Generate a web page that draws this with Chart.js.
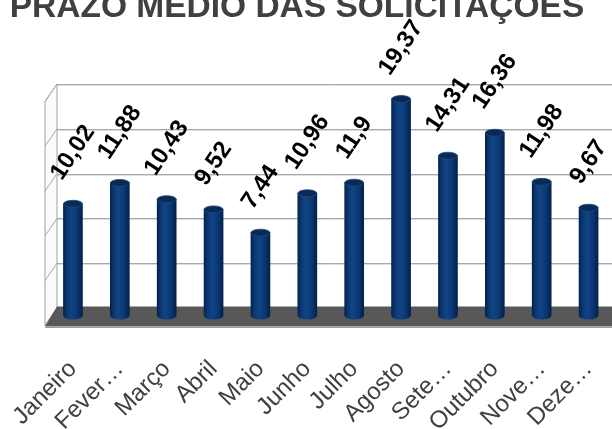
<!DOCTYPE html>
<html>
<head>
<meta charset="utf-8">
<script src="https://cdn.jsdelivr.net/npm/chart.js@4/dist/chart.umd.min.js"></script>
<style>
  html, body { margin: 0; padding: 0; background: #ffffff; }
  canvas { display: block; }
</style>
</head>
<body>
<canvas id="chart" width="612" height="429"></canvas>
<script>
// Monthly average handling time of requests
const categories = ['Janeiro', 'Fever…', 'Março', 'Abril', 'Maio', 'Junho', 'Julho', 'Agosto', 'Sete…', 'Outubro', 'Nove…', 'Deze…'];
const values = [10.02, 11.88, 10.43, 9.52, 7.44, 10.96, 11.9, 19.37, 14.31, 16.36, 11.98, 9.67];
const gridValues = [0, 4, 8, 12, 16, 20];
const titleText = 'PRAZO MÉDIO DAS SOLICITAÇÕES';

const FONT = '"Liberation Sans", Arial, sans-serif';
const BAR_W = 19;        // cylinder diameter
const CAP_RY = 3.5;      // vertical radius of cylinder ends
const DEPTH_X = 6;       // half depth of the 3D box (horizontal)
const DEPTH_Y = 9.5;     // half depth of the 3D box (vertical)

function formatValue(v) {
  return String(v).replace('.', ',');
}

function cylinderGradient(ctx, cx) {
  const g = ctx.createLinearGradient(cx - BAR_W / 2, 0, cx + BAR_W / 2, 0);
  g.addColorStop(0, '#03234d');
  g.addColorStop(0.2, '#0b3974');
  g.addColorStop(0.42, '#124484');
  g.addColorStop(0.72, '#0a3874');
  g.addColorStop(1, '#02214a');
  return g;
}

// Walls, floor and gridlines of the 3D box
const boxPlugin = {
  id: 'box3d',
  beforeDatasetsDraw(chart) {
    const { ctx, chartArea, scales } = chart;
    const ys = scales.y;
    const midX = chartArea.left + 1.5;
    const fx = midX - DEPTH_X, bx = midX + DEPTH_X;
    const right = chart.width;
    const y0 = ys.getPixelForValue(0);
    const yTop = ys.getPixelForValue(20);
    ctx.save();

    // back wall gridlines
    gridValues.forEach(v => {
      const y = Math.round(ys.getPixelForValue(v) - DEPTH_Y + 1.5) + 0.5;
      ctx.strokeStyle = '#a9a9a9';
      ctx.lineWidth = 1;
      ctx.beginPath(); ctx.moveTo(bx, y); ctx.lineTo(right, y); ctx.stroke();
      ctx.strokeStyle = '#dedede';
      ctx.beginPath(); ctx.moveTo(bx, y + 1); ctx.lineTo(right, y + 1); ctx.stroke();
    });

    // left side wall
    ctx.beginPath();
    ctx.moveTo(fx, yTop + DEPTH_Y);
    ctx.lineTo(bx, yTop - DEPTH_Y + 1.5);
    ctx.lineTo(bx, y0 - DEPTH_Y + 1.5);
    ctx.lineTo(fx, y0 + DEPTH_Y);
    ctx.closePath();
    ctx.fillStyle = '#fbfbfb';
    ctx.fill();
    ctx.strokeStyle = '#a0a0a0';
    ctx.lineWidth = 1;
    ctx.stroke();
    gridValues.forEach(v => {
      const y = ys.getPixelForValue(v);
      ctx.beginPath();
      ctx.moveTo(fx, y + DEPTH_Y);
      ctx.lineTo(bx, y - DEPTH_Y + 1.5);
      ctx.strokeStyle = '#a9a9a9';
      ctx.stroke();
    });

    // floor
    ctx.beginPath();
    ctx.moveTo(fx, y0 + DEPTH_Y + 1);
    ctx.lineTo(bx, y0 - DEPTH_Y);
    ctx.lineTo(right, y0 - DEPTH_Y);
    ctx.lineTo(right, y0 + DEPTH_Y + 1);
    ctx.closePath();
    ctx.fillStyle = '#585858';
    ctx.fill();
    ctx.strokeStyle = '#9c9c9c';
    ctx.beginPath();
    ctx.moveTo(fx, Math.round(y0 + DEPTH_Y + 1) + 0.5);
    ctx.lineTo(right, Math.round(y0 + DEPTH_Y + 1) + 0.5);
    ctx.stroke();
    ctx.restore();
  }
};

// Cylinder ends and value labels
const cylinderPlugin = {
  id: 'cylinders',
  afterDatasetsDraw(chart) {
    const { ctx } = chart;
    const meta = chart.getDatasetMeta(0);
    ctx.save();
    meta.data.forEach((el) => {
      const { x, y, base } = el.getProps(['x', 'y', 'base'], true);
      // rounded bottom
      ctx.beginPath();
      ctx.ellipse(x, base, BAR_W / 2, CAP_RY, 0, 0, Math.PI);
      ctx.fillStyle = cylinderGradient(ctx, x);
      ctx.fill();
      // top cap
      ctx.beginPath();
      ctx.ellipse(x, y, BAR_W / 2, CAP_RY, 0, 0, Math.PI * 2);
      ctx.fillStyle = '#0a2a55';
      ctx.fill();
      ctx.strokeStyle = '#1b4a86';
      ctx.lineWidth = 0.8;
      ctx.stroke();
    });

    // rotated value labels
    const angle = 56 * Math.PI / 180;
    ctx.font = 'bold 24px ' + FONT;
    ctx.fillStyle = '#000000';
    ctx.textAlign = 'center';
    ctx.textBaseline = 'middle';
    meta.data.forEach((el, i) => {
      const { x, y } = el.getProps(['x', 'y'], true);
      const text = formatValue(values[i]);
      const w = ctx.measureText(text).width;
      const boxH = w * Math.sin(angle) + 24 * Math.cos(angle);
      const cy = y - CAP_RY - 16 - boxH / 2;
      ctx.save();
      ctx.translate(x, cy);
      ctx.rotate(-angle);
      ctx.fillText(text, 0, 0);
      ctx.restore();
    });
    ctx.restore();
  }
};

// Title partly above the top edge
const titlePlugin = {
  id: 'topTitle',
  afterDraw(chart) {
    const { ctx } = chart;
    ctx.save();
    ctx.font = 'bold 33.5px ' + FONT;
    ctx.fillStyle = '#404040';
    ctx.textAlign = 'center';
    ctx.textBaseline = 'alphabetic';
    ctx.fillText(titleText, 297, 17);
    ctx.restore();
  }
};

new Chart(document.getElementById('chart'), {
  type: 'bar',
  data: {
    labels: categories,
    datasets: [{
      data: values,
      barThickness: BAR_W,
      borderWidth: 0,
      backgroundColor: (c) => {
        const ch = c.chart;
        const xs = ch.scales && ch.scales.x;
        if (!xs || !ch.chartArea) return '#0c3a76';
        const cx = xs.getPixelForValue(c.dataIndex);
        if (!isFinite(cx)) return '#0c3a76';
        return cylinderGradient(ch.ctx, cx);
      }
    }]
  },
  options: {
    responsive: false,
    animation: false,
    devicePixelRatio: 1,
    layout: { padding: { left: 49.5, top: 92, right: 0, bottom: 0 } },
    plugins: {
      legend: { display: false },
      tooltip: { enabled: false },
      title: { display: false }
    },
    scales: {
      x: {
        grid: { display: false },
        border: { display: false },
        ticks: {
          autoSkip: false,
          maxRotation: 45,
          minRotation: 45,
          padding: 31,
          color: '#404040',
          font: { family: FONT, size: 24 }
        },
        afterFit: (s) => {
          s.height = 113;
          s.paddingLeft = 0;
          s.paddingRight = 0;
        }
      },
      y: {
        display: false,
        min: 0,
        max: 20
      }
    }
  },
  plugins: [boxPlugin, cylinderPlugin, titlePlugin]
});
</script>
</body>
</html>
